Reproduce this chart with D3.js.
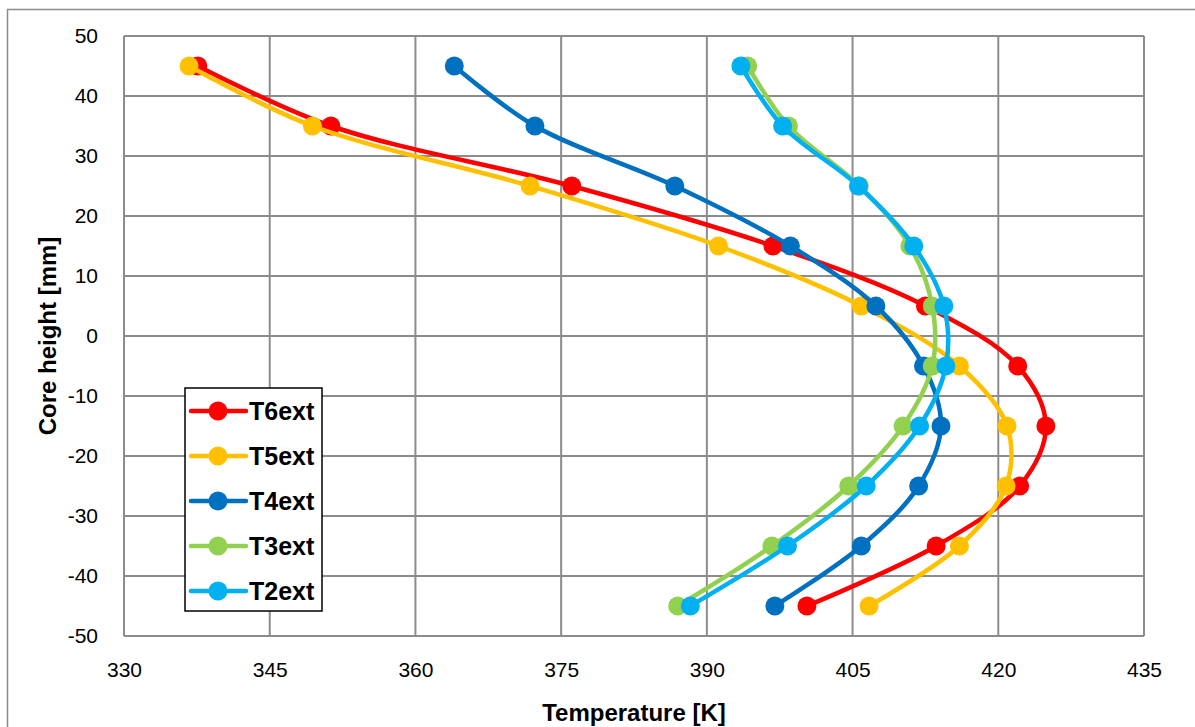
<!DOCTYPE html>
<html>
<head>
<meta charset="utf-8">
<script src="https://cdn.jsdelivr.net/npm/d3@7"></script>
<style>
  body { margin: 0; background: #fff; }
  svg text { font-family: "Liberation Sans", Arial, sans-serif; }
</style>
</head>
<body>
<div id="chart"></div>
<script>
// core heights (mm) shared by all series
const heights = [45, 35, 25, 15, 5, -5, -15, -25, -35, -45]

// temperatures (K)
const T6ext = [337.6, 351.3, 376.1, 396.8, 412.5, 422.0, 424.9, 422.2, 413.6, 400.3]
const T5ext = [336.7, 349.4, 371.8, 391.2, 405.9, 416.0, 420.9, 420.8, 416.0, 406.7]
const T4ext = [364.0, 372.3, 386.7, 398.6, 407.4, 412.3, 414.1, 411.8, 405.9, 397.0]
const T3ext = [394.2, 398.4, 405.7, 410.9, 413.2, 413.2, 410.2, 404.6, 396.7, 387.0]
const T2ext = [393.5, 397.8, 405.6, 411.3, 414.4, 414.6, 411.9, 406.4, 398.3, 388.3]

const seriesNames = ["T6ext", "T5ext", "T4ext", "T3ext", "T2ext"]
const seriesValues = [T6ext, T5ext, T4ext, T3ext, T2ext]
const seriesColors = ["#ff0000", "#ffc000", "#0070c0", "#92d050", "#00b0f0"]

const xTicks = [330, 345, 360, 375, 390, 405, 420, 435]
const yTicks = [50, 40, 30, 20, 10, 0, -10, -20, -30, -40, -50]

const width = 1195
const height = 727
const margin = {top: 36, right: 51, bottom: 91, left: 124}

const svg = d3.select("#chart").append("svg")
    .attr("width", width)
    .attr("height", height)

// outer chart border
svg.append("rect")
    .attr("x", 7.5).attr("y", 9.5)
    .attr("width", width).attr("height", height)
    .attr("fill", "none")
    .attr("stroke", "#8c8c8c")
    .attr("stroke-width", 1.5)

const x = d3.scaleLinear().domain([330, 435]).range([margin.left, width - margin.right])
const y = d3.scaleLinear().domain([-50, 50]).range([height - margin.bottom, margin.top])

// gridlines
const grid = svg.append("g").attr("stroke", "#8c8c8c").attr("stroke-width", 2)
grid.selectAll(".vx").data(xTicks).enter().append("line")
    .attr("x1", d => x(d)).attr("x2", d => x(d))
    .attr("y1", y(50)).attr("y2", y(-50))
grid.selectAll(".hy").data(yTicks).enter().append("line")
    .attr("x1", x(330)).attr("x2", x(435))
    .attr("y1", d => y(d)).attr("y2", d => y(d))

// axes (labels only, Excel-style, plain hyphen minus)
const fmt = d => String(d)

const xAxis = svg.append("g")
    .attr("transform", "translate(0," + y(-50) + ")")
    .call(d3.axisBottom(x).tickValues(xTicks).tickFormat(fmt).tickSize(0).tickPadding(26))
xAxis.select(".domain").remove()
xAxis.selectAll("text").attr("font-size", 21).attr("fill", "#000")
    .style("font-family", "'Liberation Sans', Arial, sans-serif")

const yAxis = svg.append("g")
    .attr("transform", "translate(" + x(330) + ",0)")
    .call(d3.axisLeft(y).tickValues(yTicks).tickFormat(fmt).tickSize(0).tickPadding(26))
yAxis.select(".domain").remove()
yAxis.selectAll("text").attr("font-size", 21).attr("fill", "#000")
    .style("font-family", "'Liberation Sans', Arial, sans-serif")

// axis titles
svg.append("text")
    .attr("x", (x(330) + x(435)) / 2)
    .attr("y", 721)
    .attr("text-anchor", "middle")
    .attr("font-size", 24).attr("font-weight", "bold")
    .text("Temperature [K]")

svg.append("text")
    .attr("transform", "translate(56," + (y(50) + y(-50)) / 2 + ") rotate(-90)")
    .attr("text-anchor", "middle")
    .attr("font-size", 24).attr("font-weight", "bold")
    .text("Core height [mm]")

// series
const line = d3.line()
    .x(d => x(d[0]))
    .y(d => y(d[1]))
    .curve(d3.curveCatmullRom.alpha(0.5))

seriesValues.forEach((vals, i) => {
    const pts = vals.map((t, j) => [t, heights[j]])
    const g = svg.append("g")
    g.append("path")
        .datum(pts)
        .attr("d", line)
        .attr("fill", "none")
        .attr("stroke", seriesColors[i])
        .attr("stroke-width", 4.5)
        .attr("stroke-linejoin", "round")
    g.selectAll("circle").data(pts).enter().append("circle")
        .attr("cx", d => x(d[0]))
        .attr("cy", d => y(d[1]))
        .attr("r", 9.5)
        .attr("fill", seriesColors[i])
})

// legend
const legend = svg.append("g")
legend.append("rect")
    .attr("x", 185).attr("y", 388)
    .attr("width", 137).attr("height", 223)
    .attr("fill", "#fff")
    .attr("stroke", "#000")
    .attr("stroke-width", 1.5)

seriesNames.forEach((name, i) => {
    const ly = 411 + i * 45
    legend.append("line")
        .attr("x1", 191).attr("x2", 246)
        .attr("y1", ly).attr("y2", ly)
        .attr("stroke", seriesColors[i])
        .attr("stroke-width", 4.5)
        .attr("stroke-linecap", "round")
    legend.append("circle")
        .attr("cx", 218).attr("cy", ly).attr("r", 9.5)
        .attr("fill", seriesColors[i])
    legend.append("text")
        .attr("x", 249).attr("y", ly)
        .attr("dy", "0.36em")
        .attr("font-size", 25).attr("font-weight", "bold")
        .text(name)
})
</script>
</body>
</html>
